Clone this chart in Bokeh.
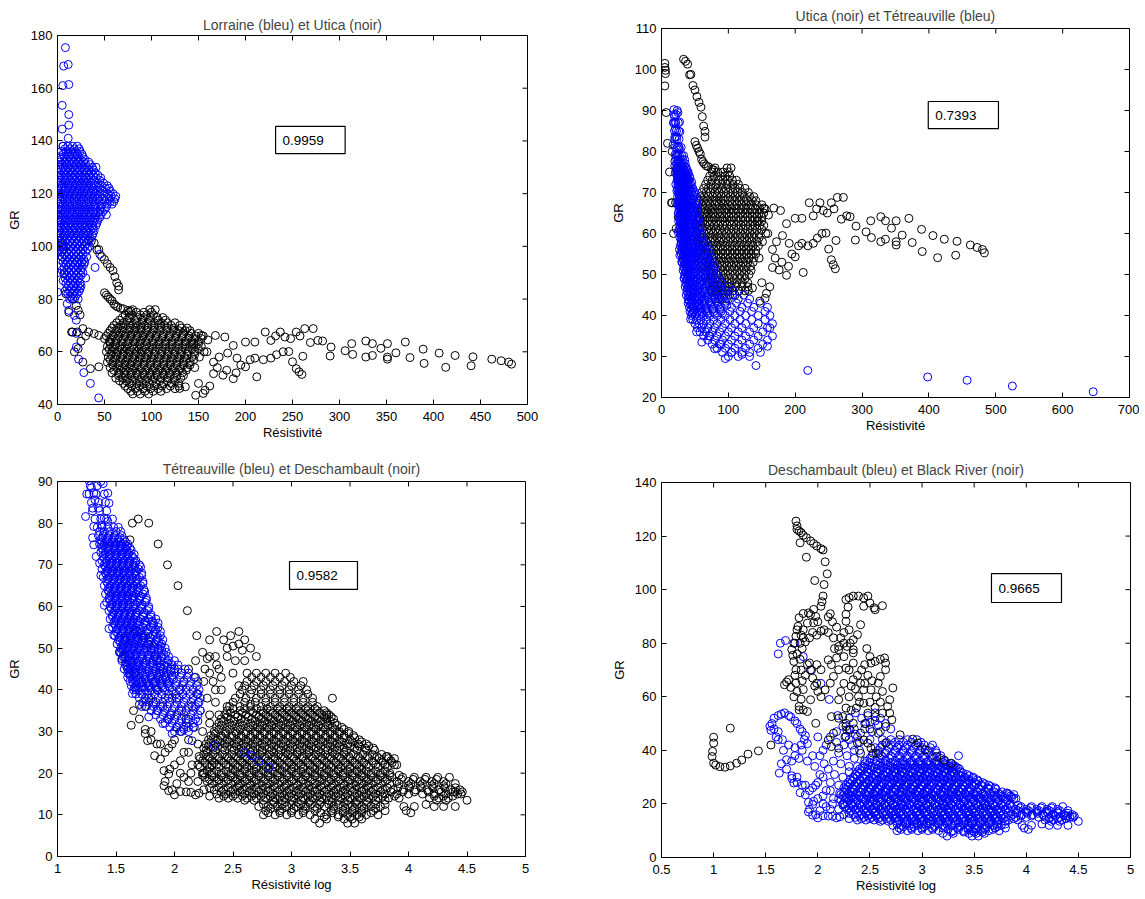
import numpy as np
from bokeh.plotting import figure
from bokeh.layouts import column, row
from bokeh.models import FixedTicker, CustomJSTickFormatter, BoxAnnotation, Label, Range1d
from bokeh.embed import file_html
from bokeh.resources import INLINE

FONT = "Liberation Sans"

# ---- Lorraine (resistivity, GR) : dense rows (GR, [resistivities]) + loose points
lorraine_rows = [
    (138, [6, 11, 16, 21]), (137, [8, 13, 18, 23]),
    (136, [4, 9, 14, 19, 24]), (135, [6, 11, 16, 21, 26]),
    (134, [2, 7, 12, 17, 22, 27]), (133, [4, 9, 14, 19, 24, 29]),
    (132, [3, 8, 13, 18, 23, 28, 33]), (131, [1, 5, 10, 15, 20, 25, 30, 35]),
    (130, [1, 6, 11, 16, 21, 26, 31, 37, 41]), (129, [3, 8, 13, 18, 23, 28, 33, 38]),
    (128, [2, 7, 12, 17, 22, 27, 32, 36, 40]), (127, [0, 4, 9, 14, 19, 24, 29, 34, 38, 43]),
    (126, [1, 5, 10, 15, 20, 25, 30, 35, 41, 46]), (125, [3, 8, 13, 18, 23, 28, 33, 39, 45]),
    (124, [2, 7, 12, 17, 22, 27, 32, 37, 43, 49]),
    (123, [1, 5, 11, 16, 21, 26, 31, 36, 41, 47, 53]),
    (122, [0, 4, 9, 14, 19, 24, 29, 34, 39, 45, 51, 55]),
    (121, [2, 8, 13, 18, 23, 28, 33, 38, 43, 49, 56]),
    (120, [1, 6, 11, 16, 21, 26, 31, 36, 41, 47, 53, 59]),
    (119, [1, 5, 10, 15, 20, 25, 30, 35, 40, 45, 51, 57, 62]),
    (118, [0, 3, 8, 13, 18, 23, 28, 33, 38, 43, 49, 55, 61]),
    (117, [3, 8, 13, 18, 23, 28, 33, 38, 44, 50, 56, 60]),
    (116, [1, 6, 11, 16, 21, 26, 31, 36, 41, 47, 53, 58]),
    (115, [1, 5, 10, 15, 20, 25, 30, 35, 40, 46, 52]),
    (114, [0, 4, 9, 14, 19, 24, 29, 34, 39, 45, 50]),
    (113, [3, 8, 13, 18, 23, 28, 33, 38, 43, 48]),
    (112, [1, 6, 11, 16, 21, 26, 31, 36, 41, 46, 52]),
    (111, [1, 5, 10, 15, 20, 25, 30, 35, 40, 45]),
    (110, [0, 4, 9, 14, 19, 24, 29, 34, 39, 43]),
    (109, [3, 8, 13, 18, 23, 28, 33, 38, 42]),
    (108, [2, 7, 12, 17, 22, 27, 32, 37, 41]),
    (107, [0, 4, 9, 14, 19, 24, 29, 34, 38]),
    (106, [1, 5, 10, 15, 20, 25, 30, 35, 39]),
    (105, [3, 8, 13, 18, 23, 28, 33, 38]),
    (104, [2, 7, 12, 17, 22, 27, 32, 37]), (103, [1, 5, 10, 15, 20, 25, 30, 35]),
    (102, [3, 8, 13, 18, 23, 28, 33]), (101, [6, 11, 16, 21, 26, 31]),
    (100, [4, 9, 14, 19, 24, 29, 34]), (99, [2, 7, 12, 17, 22, 27, 32]),
    (98, [5, 10, 15, 20, 25, 30]), (97, [7, 12, 17, 22, 27]),
    (96, [5, 10, 15, 20, 25, 31]), (95, [3, 8, 13, 18, 23, 28]),
    (94, [6, 11, 16, 21, 26, 29]), (93, [9, 14, 19, 24, 28]),
    (92, [7, 12, 17, 22, 26]), (91, [5, 10, 15, 20, 25]),
    (90, [7, 12, 17, 22, 27]), (89, [10, 15, 20, 25]),
    (88, [8, 13, 18, 23]), (87, [6, 11, 16, 21]),
    (86, [9, 14, 19, 24]), (85, [12, 17, 22]),
    (84, [10, 15, 20, 24]), (83, [8, 13, 18, 23]),
    (82, [11, 16, 21]), (81, [14, 19]),
    (80, [13, 18, 22]),
]
lorraine_pts = [
    (8.4, 175.4), (6.5, 168.4), (11.4, 169), (5.7, 161), (12, 161.4), (5, 153.5),
    (12, 150), (5, 144.5), (12, 146), (11.4, 141), (5.7, 138),
    (0, 82.6), (0, 90), (0.8, 97.8), (0, 105), (0, 112), (0, 120),
    (10.3, 78.2), (12, 75.7), (18, 73.8), (20, 72), (20, 67), (20, 61.8),
    (22.4, 57.2), (28, 52.1), (35, 48), (43.8, 42.5),
    (30, 88), (40, 92), (45, 97), (25, 85),
]

# ---- Utica (resistivity, GR)
utica_rows = [
    (76, [80, 98, 104]), (75, [76, 84, 92, 100]),
    (74, [72, 79, 88, 95, 102]), (73, [69, 76, 85, 92, 99, 106, 112]),
    (72, [66, 74, 82, 90, 98, 107, 115]),
    (71, [63, 70, 77, 84, 90, 96, 103, 110, 117, 125]),
    (70, [60, 67, 73, 80, 86, 93, 100, 107, 114, 121, 130]),
    (69, [58, 64, 70, 77, 83, 89, 96, 103, 110, 117, 124, 132, 138]),
    (68, [56, 63, 69, 76, 82, 89, 95, 102, 109, 116, 123, 129, 136, 141]),
    (67, [54, 61, 67, 73, 80, 86, 93, 100, 106, 113, 120, 127, 134, 142, 150]),
    (66, [52, 59, 65, 72, 78, 85, 91, 98, 105, 112, 119, 126, 133, 140, 147, 155]),
    (65, [57, 64, 70, 77, 84, 90, 97, 104, 111, 118, 125, 132, 139, 146, 153]),
    (64, [55, 62, 68, 75, 81, 88, 94, 101, 108, 115, 122, 129, 136, 143, 150]),
    (63, [56, 62, 69, 75, 82, 88, 95, 102, 108, 115, 122, 129, 136, 143, 150]),
    (62, [53, 59, 66, 72, 79, 85, 92, 98, 105, 112, 119, 126, 133, 140, 147, 153]),
    (61, [55, 61, 68, 74, 81, 87, 94, 101, 108, 115, 122, 129, 136, 143, 150]),
    (60, [52, 58, 64, 71, 77, 84, 90, 97, 104, 111, 118, 125, 132, 139, 146, 156]),
    (59, [57, 63, 70, 76, 83, 89, 96, 103, 110, 117, 124, 131, 138, 146]),
    (58, [54, 61, 67, 74, 80, 87, 93, 100, 107, 114, 121, 128, 135, 143, 151]),
    (57, [56, 62, 69, 75, 82, 88, 95, 102, 109, 116, 123, 130, 137, 145]),
    (56, [53, 59, 66, 72, 79, 85, 92, 99, 106, 113, 120, 127, 134, 141]),
    (55, [59, 65, 72, 78, 85, 92, 99, 106, 113, 120, 127, 134, 141]),
    (54, [56, 63, 69, 76, 82, 89, 96, 103, 110, 117, 124, 131, 138, 146]),
    (53, [60, 67, 73, 80, 87, 94, 101, 108, 115, 122, 129, 137]),
    (52, [58, 65, 71, 78, 84, 91, 98, 105, 112, 119, 126, 133]),
    (51, [65, 72, 78, 85, 92, 99, 106, 113, 120, 127, 134]),
    (50, [62, 69, 75, 82, 89, 96, 103, 110, 117, 124, 131]),
    (49, [66, 73, 80, 87, 94, 101, 109, 117, 125]),
    (48, [70, 77, 84, 91, 98, 105, 113, 121, 129]),
    (47, [72, 79, 87, 95, 103, 111, 120, 129]),
    (46, [75, 83, 91, 99, 107, 116, 125]),
    (45, [78, 85, 93, 102, 110]),
    (44, [80, 88, 97]),
]
utica_pts = [
    (5, 101.5), (5, 100.5), (6, 99.8), (6, 99), (5, 96), (7, 89.5), (9, 82),
    (12, 75), (15, 67.5), (18, 60),
    (33, 102.5), (36, 102), (39, 101.3), (42, 98.7), (44, 98.8), (47, 96.1),
    (50, 95), (53, 93.4), (56, 92), (59, 90.8), (61, 88.5), (63, 86.2),
    (65, 84.9), (65, 83.5), (50, 82.4), (52, 81.5), (54, 80.8), (56, 80),
    (58, 79.4), (60, 78.1), (62, 77.5), (64, 77), (67, 76.5), (70, 76.3),
    (75, 75.7), (78, 75.5),
    (16, 80), (20, 77.6), (22, 75.7), (24, 74), (16, 67.5), (21, 67.5),
    (27, 68.8), (33, 67.5), (39, 66.9), (44, 66.2), (50, 65), (56, 63.7),
    (22, 61.2), (27, 56.1), (35, 53.6), (44, 54.3), (25, 64), (30, 66),
    (145, 63), (153, 66.2), (160, 64.5), (168, 66.2), (178, 65.6), (187, 62.4),
    (200, 63.7), (210, 63.7), (221, 67.5), (227, 64.3), (232, 66), (237, 67.5),
    (242, 65.6), (248, 65), (254, 67.5), (258, 66), (263, 68.8), (272, 68.8),
    (269, 63.5), (277, 64.3), (282, 64.1),
    (159, 60), (166, 56.1), (172, 58), (181, 59.5), (191, 57.6), (195, 55),
    (200, 54.3), (205, 57), (210, 57.6), (212, 50.5), (219, 57), (227, 57.6),
    (233, 58.9), (240, 60), (246, 60.1), (250, 56.2), (254, 53.6), (257, 52.4),
    (260, 51.4), (261, 58.3), (176, 51.1), (187, 49.8), (166, 51.7), (157, 45.4),
    (155, 44.2), (147, 43.5), (130, 46.1), (136, 46.7), (170, 54), (180, 53),
    (190, 52), (150, 48), (162, 47),
    (291, 61.8), (290, 58.4), (306, 60.4), (314, 59), (313, 63.1), (328, 64.1),
    (335, 63.1), (328, 58), (335, 58.6), (344, 61.3), (351, 63.1), (351, 58),
    (351, 57.2), (360, 59.6), (370, 63.7), (375, 57.8), (389, 61), (390, 55.6),
    (406, 59.5), (413, 54.1), (423, 58.6), (440, 54.7), (442, 58.1), (462, 57.2),
    (472, 56.6), (480, 56.1), (483, 55.3),
]

# ---- Tetreauville (log10 resistivity, GR)
tetreauville_rows = [
    (89, [1.28, 1.34]), (87, [1.27, 1.33, 1.40]), (85, [1.29, 1.35, 1.41]),
    (83, [1.30, 1.36, 1.42]), (81, [1.32, 1.37, 1.42, 1.47]),
    (79, [1.34, 1.38, 1.43, 1.48, 1.52]),
    (78, [1.36, 1.40, 1.45, 1.50, 1.54]), (77, [1.35, 1.39, 1.44, 1.49, 1.55]),
    (76, [1.37, 1.42, 1.47, 1.52, 1.57]), (75, [1.36, 1.40, 1.45, 1.50, 1.55, 1.60]),
    (74, [1.38, 1.43, 1.48, 1.53, 1.58, 1.62]), (73, [1.37, 1.41, 1.46, 1.51, 1.56, 1.61]),
    (72, [1.39, 1.44, 1.49, 1.54, 1.59, 1.64]),
    (71, [1.38, 1.42, 1.47, 1.52, 1.57, 1.62, 1.67]),
    (70, [1.40, 1.45, 1.50, 1.55, 1.60, 1.65, 1.70]),
    (69, [1.38, 1.43, 1.48, 1.53, 1.58, 1.63, 1.69]),
    (68, [1.41, 1.46, 1.51, 1.56, 1.61, 1.66, 1.72]),
    (67, [1.39, 1.44, 1.49, 1.54, 1.59, 1.64, 1.70]),
    (66, [1.42, 1.47, 1.52, 1.57, 1.62, 1.67, 1.73]),
    (65, [1.40, 1.45, 1.50, 1.55, 1.60, 1.65, 1.71]),
    (64, [1.43, 1.48, 1.53, 1.58, 1.63, 1.68, 1.74]),
    (63, [1.41, 1.46, 1.51, 1.56, 1.61, 1.67, 1.73]),
    (62, [1.44, 1.49, 1.54, 1.59, 1.64, 1.70, 1.76]),
    (61, [1.42, 1.47, 1.52, 1.57, 1.62, 1.68, 1.75]),
    (60, [1.45, 1.50, 1.55, 1.60, 1.65, 1.71, 1.78]),
    (59, [1.44, 1.49, 1.54, 1.59, 1.64, 1.70, 1.77]),
    (58, [1.47, 1.52, 1.57, 1.62, 1.67, 1.73, 1.80]),
    (57, [1.45, 1.50, 1.55, 1.60, 1.65, 1.71, 1.78, 1.84]),
    (56, [1.48, 1.53, 1.58, 1.63, 1.68, 1.74, 1.82, 1.86]),
    (55, [1.47, 1.52, 1.57, 1.62, 1.67, 1.73, 1.80, 1.86]),
    (54, [1.50, 1.55, 1.60, 1.65, 1.70, 1.76, 1.83, 1.88]),
    (53, [1.49, 1.54, 1.59, 1.64, 1.69, 1.75, 1.82, 1.88]),
    (52, [1.52, 1.57, 1.62, 1.67, 1.72, 1.78, 1.85, 1.90]),
    (51, [1.51, 1.56, 1.61, 1.66, 1.71, 1.77, 1.83, 1.89]),
    (50, [1.54, 1.59, 1.64, 1.69, 1.74, 1.80, 1.86, 1.92]),
    (49, [1.53, 1.58, 1.63, 1.68, 1.74, 1.80, 1.86, 1.93]),
    (48, [1.56, 1.61, 1.66, 1.71, 1.77, 1.83, 1.89, 1.95]),
    (47, [1.55, 1.60, 1.65, 1.70, 1.76, 1.82, 1.88, 1.95, 2.00]),
    (46, [1.58, 1.63, 1.68, 1.73, 1.79, 1.85, 1.91, 1.98, 2.03]),
    (45, [1.57, 1.62, 1.67, 1.72, 1.78, 1.84, 1.90, 1.97, 2.03, 2.09]),
    (44, [1.60, 1.65, 1.70, 1.75, 1.81, 1.87, 1.93, 2.00, 2.06, 2.12]),
    (43, [1.60, 1.65, 1.70, 1.75, 1.80, 1.86, 1.92, 1.98, 2.05, 2.11, 2.17]),
    (42, [1.62, 1.67, 1.72, 1.77, 1.83, 1.89, 1.95, 2.02, 2.08, 2.14, 2.20]),
    (41, [1.63, 1.68, 1.73, 1.78, 1.83, 1.89, 1.95, 2.01, 2.07, 2.13, 2.19]),
    (40, [1.65, 1.70, 1.75, 1.80, 1.86, 1.92, 1.98, 2.04, 2.10, 2.16, 2.21]),
    (39, [1.67, 1.72, 1.77, 1.83, 1.89, 1.95, 2.01, 2.07, 2.13, 2.19]),
    (38, [1.70, 1.75, 1.80, 1.86, 1.92, 1.98, 2.04, 2.10, 2.16, 2.22]),
    (37, [1.73, 1.78, 1.84, 1.90, 1.96, 2.02, 2.08, 2.14, 2.20]),
    (36, [1.76, 1.82, 1.88, 1.94, 2.00, 2.06, 2.12, 2.18]),
    (35, [1.80, 1.86, 1.92, 1.98, 2.04, 2.10, 2.16]),
    (34, [1.84, 1.90, 1.96, 2.02, 2.08, 2.14, 2.20]),
    (33, [1.88, 1.94, 2.00, 2.06, 2.12]),
    (32, [1.92, 1.98, 2.04, 2.10, 2.16]),
    (31, [1.96, 2.02, 2.08]),
    (30, [2.00, 2.06, 2.12]),
    # in-between rows of the dense core
    (76.5, [1.385, 1.435, 1.485, 1.535]),
    (75.5, [1.38, 1.43, 1.48, 1.53, 1.58]),
    (74.5, [1.395, 1.445, 1.495, 1.545, 1.595]),
    (73.5, [1.39, 1.44, 1.49, 1.54, 1.59, 1.63]),
    (72.5, [1.405, 1.455, 1.505, 1.555, 1.605, 1.655]),
    (71.5, [1.40, 1.45, 1.50, 1.55, 1.60, 1.65]),
    (70.5, [1.415, 1.465, 1.515, 1.565, 1.615, 1.665]),
    (69.5, [1.41, 1.46, 1.51, 1.56, 1.61, 1.66, 1.71]),
    (68.5, [1.425, 1.475, 1.525, 1.575, 1.625, 1.675]),
    (67.5, [1.42, 1.47, 1.52, 1.57, 1.62, 1.67, 1.72]),
    (66.5, [1.435, 1.485, 1.535, 1.585, 1.635, 1.685]),
    (65.5, [1.43, 1.48, 1.53, 1.58, 1.63, 1.68, 1.73]),
    (64.5, [1.445, 1.495, 1.545, 1.595, 1.645, 1.695]),
    (63.5, [1.44, 1.49, 1.54, 1.59, 1.64, 1.69, 1.745]),
    (62.5, [1.455, 1.505, 1.555, 1.605, 1.655, 1.71]),
    (61.5, [1.45, 1.50, 1.55, 1.60, 1.65, 1.70, 1.76]),
    (60.5, [1.465, 1.515, 1.565, 1.615, 1.665, 1.72]),
    (59.5, [1.46, 1.51, 1.56, 1.61, 1.66, 1.72, 1.78]),
    (58.5, [1.48, 1.53, 1.58, 1.63, 1.68, 1.74]),
    (57.5, [1.47, 1.52, 1.57, 1.62, 1.67, 1.73, 1.80]),
    (56.5, [1.49, 1.54, 1.59, 1.64, 1.69, 1.75, 1.81]),
    (55.5, [1.495, 1.545, 1.595, 1.645, 1.695, 1.755, 1.82]),
    (54.5, [1.51, 1.56, 1.61, 1.66, 1.71, 1.77, 1.84]),
    (53.5, [1.515, 1.565, 1.615, 1.665, 1.715, 1.775, 1.845]),
    (52.5, [1.53, 1.58, 1.63, 1.68, 1.73, 1.79, 1.86]),
    (51.5, [1.535, 1.585, 1.635, 1.685, 1.735, 1.795, 1.865]),
    (50.5, [1.55, 1.60, 1.65, 1.70, 1.76, 1.82, 1.88]),
    (49.5, [1.555, 1.605, 1.655, 1.705, 1.765, 1.825, 1.89]),
    (48.5, [1.57, 1.62, 1.67, 1.72, 1.78, 1.84, 1.91]),
    (47.5, [1.575, 1.625, 1.675, 1.725, 1.785, 1.85, 1.92]),
    (46.5, [1.59, 1.64, 1.69, 1.75, 1.81, 1.87, 1.94]),
    (45.5, [1.595, 1.645, 1.695, 1.755, 1.815, 1.875, 1.94]),
    (44.5, [1.61, 1.66, 1.72, 1.78, 1.84, 1.90, 1.97]),
    (43.5, [1.62, 1.67, 1.73, 1.79, 1.85, 1.91, 1.98]),
    (42.5, [1.64, 1.69, 1.75, 1.81, 1.87, 1.93, 1.99]),
    (41.5, [1.65, 1.70, 1.76, 1.82, 1.88, 1.94]),
    (40.5, [1.67, 1.72, 1.78, 1.84, 1.90, 1.96]),
]
tetreauville_pts = [
    (1.27, 90.2), (1.37, 90), (1.39, 89.5), (1.25, 87), (1.31, 87.2), (1.43, 87.2),
    (1.29, 88.5), (1.32, 85.6), (1.44, 84.8), (1.24, 81.6), (1.30, 83.6),
    (1.35, 83.6), (1.40, 81.2), (1.43, 80.4), (1.31, 79.2), (1.38, 79.5),
    (1.30, 76.5), (1.31, 74.8), (1.33, 72), (1.36, 70.4), (1.37, 67.5),
    (1.40, 60.3), (1.44, 54.7), (1.48, 53.1), (1.53, 49.1), (1.62, 43.5),
    (1.64, 39.1), (1.66, 40.5), (1.90, 31.9), (2.15, 27.8), (2.20, 32.5),
    (2.22, 35), (2.21, 37), (2.18, 33), (2.17, 31), (1.98, 29.5), (2.02, 31),
    (2.08, 30.5), (2.12, 31), (1.95, 33), (1.85, 35), (1.78, 33.5), (1.72, 36),
    (2.34, 26.6), (2.60, 25), (2.66, 24.2), (2.72, 22.8), (2.81, 21.4),
]

# ---- Deschambault (log10 resistivity, GR)
deschambault_rows = [
    (44, [2.70, 2.78, 2.86, 2.95]),
    (43, [2.66, 2.74, 2.82, 2.90, 2.99]),
    (42, [2.62, 2.70, 2.78, 2.86, 2.94, 3.02, 3.10]),
    (41, [2.60, 2.68, 2.76, 2.84, 2.92, 3.00, 3.08]),
    (40, [2.58, 2.66, 2.74, 2.82, 2.90, 2.98, 3.06, 3.13]),
    (39, [2.56, 2.65, 2.74, 2.82, 2.90, 2.98, 3.06, 3.14]),
    (38, [2.52, 2.61, 2.70, 2.78, 2.86, 2.94, 3.02, 3.10, 3.18]),
    (37, [2.50, 2.60, 2.69, 2.78, 2.86, 2.94, 3.02, 3.10, 3.18]),
    (36, [2.47, 2.56, 2.65, 2.74, 2.82, 2.90, 2.98, 3.06, 3.14, 3.22]),
    (35.5, [2.50, 2.60, 2.70, 2.79, 2.88, 2.96, 3.04, 3.12, 3.20]),
    (35, [2.45, 2.56, 2.65, 2.74, 2.82, 2.90, 2.98, 3.06, 3.14, 3.22, 3.28]),
    (34.5, [2.48, 2.58, 2.67, 2.76, 2.84, 2.92, 3.00, 3.08, 3.16, 3.24, 3.30]),
    (34, [2.43, 2.52, 2.61, 2.70, 2.78, 2.86, 2.94, 3.02, 3.10, 3.18, 3.26, 3.32]),
    (33.5, [2.45, 2.54, 2.63, 2.72, 2.80, 2.88, 2.96, 3.04, 3.12, 3.20, 3.28, 3.34]),
    (33, [2.40, 2.48, 2.57, 2.66, 2.74, 2.82, 2.90, 2.98, 3.06, 3.14, 3.22, 3.30, 3.36]),
    (32.5, [2.42, 2.51, 2.60, 2.69, 2.77, 2.85, 2.93, 3.01, 3.09, 3.17, 3.25, 3.33]),
    (32, [2.38, 2.47, 2.56, 2.65, 2.73, 2.81, 2.89, 2.97, 3.05, 3.13, 3.21, 3.29, 3.37]),
    (31.5, [2.40, 2.49, 2.58, 2.67, 2.75, 2.83, 2.91, 2.99, 3.07, 3.15, 3.23, 3.31, 3.39]),
    (31, [2.36, 2.45, 2.54, 2.63, 2.71, 2.79, 2.87, 2.95, 3.03, 3.11, 3.19, 3.27,
          3.35, 3.43]),
    (30.5, [2.38, 2.47, 2.56, 2.65, 2.73, 2.81, 2.89, 2.97, 3.05, 3.13, 3.21, 3.29,
            3.37, 3.45]),
    (30, [2.34, 2.43, 2.52, 2.61, 2.69, 2.77, 2.85, 2.93, 3.01, 3.09, 3.17, 3.25,
          3.33, 3.41, 3.49]),
    (29.5, [2.35, 2.44, 2.53, 2.61, 2.69, 2.77, 2.85, 2.93, 3.01, 3.09, 3.17, 3.25,
            3.33, 3.41, 3.49]),
    (29, [2.31, 2.40, 2.49, 2.57, 2.65, 2.73, 2.81, 2.89, 2.97, 3.05, 3.13, 3.21,
          3.29, 3.37, 3.45, 3.53]),
    (28.5, [2.33, 2.41, 2.49, 2.57, 2.65, 2.73, 2.81, 2.89, 2.97, 3.05, 3.13, 3.21,
            3.29, 3.37, 3.45, 3.54]),
    (28, [2.29, 2.37, 2.45, 2.53, 2.61, 2.69, 2.77, 2.85, 2.93, 3.01, 3.09, 3.17,
          3.25, 3.33, 3.41, 3.50, 3.58]),
    (27.5, [2.31, 2.39, 2.47, 2.55, 2.63, 2.71, 2.79, 2.87, 2.95, 3.03, 3.11, 3.19,
            3.27, 3.35, 3.43, 3.52, 3.60]),
    (27, [2.27, 2.35, 2.43, 2.51, 2.59, 2.67, 2.75, 2.83, 2.91, 2.99, 3.07, 3.15,
          3.23, 3.31, 3.39, 3.48, 3.57, 3.64]),
    (26.5, [2.29, 2.37, 2.45, 2.53, 2.61, 2.69, 2.77, 2.85, 2.93, 3.01, 3.09, 3.17,
            3.25, 3.33, 3.41, 3.50, 3.58, 3.66]),
    (26, [2.25, 2.33, 2.41, 2.49, 2.57, 2.65, 2.73, 2.81, 2.89, 2.97, 3.05, 3.13,
          3.21, 3.29, 3.37, 3.45, 3.54, 3.63, 3.70]),
    (25.5, [2.27, 2.35, 2.43, 2.51, 2.59, 2.67, 2.75, 2.83, 2.91, 2.99, 3.07, 3.15,
            3.23, 3.31, 3.39, 3.47, 3.56, 3.64, 3.71]),
    (25, [2.55, 2.65, 2.75, 2.85, 2.95, 3.05, 3.15, 3.25, 3.35, 3.45]),
    (24.5, [2.25, 2.33, 2.41, 2.49, 2.57, 2.65, 2.73, 2.81, 2.89, 2.97, 3.05, 3.13,
            3.21, 3.29, 3.37, 3.45, 3.53, 3.61, 3.69, 3.77]),
    (24, [2.21, 2.29, 2.37, 2.45, 2.53, 2.61, 2.69, 2.77, 2.85, 2.93, 3.01, 3.09,
          3.17, 3.25, 3.33, 3.41, 3.49, 3.57, 3.65, 3.73, 3.81]),
    (23.5, [2.22, 2.30, 2.38, 2.46, 2.54, 2.62, 2.70, 2.78, 2.86, 2.94, 3.02, 3.10,
            3.18, 3.26, 3.34, 3.42, 3.50, 3.58, 3.66, 3.75, 3.83]),
    (23, [2.24, 2.32, 2.40, 2.48, 2.56, 2.64, 2.72, 2.80, 2.88, 2.96, 3.04, 3.12,
          3.20, 3.28, 3.36, 3.44, 3.52, 3.60, 3.69, 3.77, 3.85]),
    (22.5, [2.26, 2.34, 2.42, 2.50, 2.58, 2.66, 2.74, 2.82, 2.90, 2.98, 3.06, 3.14,
            3.22, 3.30, 3.38, 3.46, 3.54, 3.62, 3.70, 3.78, 3.86]),
    (22, [2.20, 2.28, 2.36, 2.44, 2.52, 2.60, 2.68, 2.76, 2.84, 2.92, 3.00, 3.08,
          3.16, 3.24, 3.32, 3.40, 3.48, 3.56, 3.64, 3.72, 3.80, 3.88]),
    (21.5, [2.22, 2.30, 2.38, 2.46, 2.54, 2.62, 2.70, 2.78, 2.86, 2.94, 3.02, 3.10,
            3.18, 3.26, 3.34, 3.42, 3.50, 3.58, 3.66, 3.74, 3.82]),
    (21, [2.50, 2.60, 2.70, 2.80, 2.90, 3.00, 3.10, 3.20, 3.30, 3.40, 3.50, 3.60]),
    (20.5, [2.28, 2.36, 2.44, 2.52, 2.60, 2.68, 2.76, 2.84, 2.92, 3.00, 3.08, 3.16,
            3.24, 3.32, 3.40, 3.48, 3.56, 3.64, 3.72, 3.80]),
    (20, [2.24, 2.32, 2.40, 2.48, 2.56, 2.64, 2.72, 2.80, 2.88, 2.96, 3.04, 3.12,
          3.20, 3.28, 3.36, 3.44, 3.52, 3.60, 3.68, 3.76, 3.84]),
    (19.5, [2.24, 2.32, 2.40, 2.48, 2.56, 2.64, 2.72, 2.80, 2.88, 2.96, 3.04, 3.12,
            3.20, 3.28, 3.36, 3.44, 3.52, 3.60, 3.68, 3.76, 3.84, 3.92]),
    (19, [2.26, 2.34, 2.42, 2.50, 2.58, 2.66, 2.74, 2.82, 2.90, 2.98, 3.06, 3.14,
          3.22, 3.30, 3.38, 3.46, 3.54, 3.62, 3.70, 3.78, 3.86, 3.95, 4.05, 4.15,
          4.25, 4.35]),
    (18.5, [2.30, 2.38, 2.46, 2.54, 2.62, 2.70, 2.78, 2.86, 2.94, 3.02, 3.10, 3.18,
            3.26, 3.34, 3.42, 3.50, 3.58, 3.66, 3.74, 3.82, 3.94, 4.04, 4.14, 4.24]),
    (18, [2.28, 2.36, 2.44, 2.52, 2.60, 2.68, 2.76, 2.84, 2.92, 3.00, 3.08, 3.16,
          3.24, 3.32, 3.40, 3.48, 3.56, 3.64, 3.72, 3.80, 3.90, 4.00, 4.10, 4.20, 4.30]),
    (17.5, [2.32, 2.40, 2.48, 2.56, 2.64, 2.72, 2.80, 2.88, 2.96, 3.04, 3.12, 3.20,
            3.28, 3.36, 3.44, 3.52, 3.60, 3.68, 3.76, 3.84, 3.92, 4.02, 4.12, 4.22,
            4.32, 4.40]),
    (17, [2.55, 2.65, 2.75, 2.85, 2.95, 3.05, 3.15, 3.25, 3.35, 3.45, 3.55, 3.65]),
    (16.5, [2.30, 2.38, 2.46, 2.54, 2.62, 2.70, 2.78, 2.86, 2.94, 3.02, 3.10, 3.18,
            3.26, 3.34, 3.42, 3.50, 3.58, 3.66, 3.74, 3.82, 3.91, 4.01, 4.11, 4.21,
            4.31, 4.40]),
    (16, [2.34, 2.42, 2.50, 2.58, 2.66, 2.74, 2.82, 2.90, 2.98, 3.06, 3.14, 3.22,
          3.30, 3.38, 3.46, 3.54, 3.62, 3.70, 3.78, 3.87, 3.96, 4.06, 4.16, 4.26,
          4.36, 4.44]),
    (15.5, [2.40, 2.48, 2.56, 2.64, 2.72, 2.80, 2.88, 2.96, 3.04, 3.12, 3.20, 3.28,
            3.36, 3.44, 3.52, 3.60, 3.68, 3.76, 3.85, 3.95, 4.05, 4.17, 4.28, 4.38,
            4.46]),
    (15, [2.36, 2.44, 2.52, 2.60, 2.68, 2.76, 2.84, 2.92, 3.00, 3.08, 3.16, 3.24,
          3.32, 3.40, 3.48, 3.56, 3.64, 3.72, 3.80, 3.90, 4.00, 4.12, 4.22, 4.32, 4.42]),
    (14.5, [2.42, 2.50, 2.58, 2.66, 2.74, 2.82, 2.90, 2.98, 3.06, 3.14, 3.22, 3.30,
            3.38, 3.46, 3.54, 3.62, 3.70, 3.78, 3.88, 4.22, 4.30, 4.38]),
    (14, [2.38, 2.46, 2.54, 2.62, 2.70, 2.78, 2.86, 2.94, 3.02, 3.10, 3.18, 3.26,
          3.34, 3.42, 3.50, 3.58, 3.66, 3.74, 3.83, 3.92, 4.18, 4.26, 4.34]),
    (13.5, [2.60, 2.68, 2.76, 2.84, 2.92, 3.00, 3.08, 3.16, 3.24, 3.32, 3.40, 3.48,
            3.56, 3.64, 3.72, 3.80, 4.24, 4.32]),
    (13, [2.85, 2.95, 3.05, 3.15, 3.25, 3.35, 3.45, 3.55, 3.65]),
    (12.5, [2.76, 2.84, 2.92, 3.00, 3.08, 3.16, 3.24, 3.32, 3.40, 3.48, 3.56, 3.64,
            3.72, 3.80]),
    (12, [2.72, 2.80, 2.88, 2.96, 3.04, 3.12, 3.20, 3.28, 3.36, 3.44, 3.52, 3.60,
          3.68, 3.76, 3.96, 4.22, 4.30]),
    (11.5, [2.82, 2.92, 3.02, 3.12, 3.22, 3.36, 3.46, 3.54, 3.62, 3.72]),
    (11, [2.78, 2.90, 3.00, 3.10, 3.20, 3.34, 3.44, 3.52, 3.60, 3.70, 3.80]),
    (10.5, [2.80, 2.90, 3.00, 3.10, 3.25, 3.35, 3.44, 3.52, 3.60, 3.68]),
    (10, [2.76, 2.86, 2.96, 3.06, 3.16, 3.30, 3.40, 3.48, 3.56, 3.64, 3.74]),
    (9.5, [3.28, 3.40, 3.50, 3.58]),
    (9, [3.20, 3.30, 3.45, 3.52, 3.60]),
    (8, [3.24, 3.48, 3.54]),
]
deschambault_pts = [
    (1.69, 81), (1.64, 80), (1.78, 80), (1.62, 76), (1.86, 75), (1.94, 70),
    (2.03, 65), (2.11, 59), (2.19, 53),
    (1.54, 49), (1.55, 47.5), (1.62, 44), (1.65, 35), (1.63, 31.5), (1.75, 29.5),
    (1.77, 27.8), (1.83, 24.2), (1.88, 23.4), (1.91, 20.6), (1.95, 19.8),
    (1.91, 17), (1.95, 15.8), (2.05, 15.6), (2.10, 15.5), (2.14, 15.4), (2.21, 15.2),
    (1.58, 52), (1.65, 53.5), (1.72, 53), (1.78, 51), (1.83, 48), (1.88, 45.5),
    (1.90, 42.5), (1.85, 40), (1.78, 38), (1.70, 36.5), (1.60, 45), (1.67, 40),
    (1.80, 30), (1.85, 27), (1.92, 25), (2.00, 22), (2.05, 20), (1.98, 27),
    (2.05, 30), (2.10, 33), (2.15, 36), (2.20, 39), (2.25, 42), (2.30, 44),
    (2.08, 25), (2.15, 22), (2.12, 18), (2.00, 45), (2.05, 40), (1.95, 38),
    (2.28, 47.5), (2.35, 48), (2.38, 45), (2.45, 48), (2.50, 50.5), (2.55, 51),
    (2.58, 49.5), (2.60, 47), (2.62, 44), (2.50, 44), (2.40, 40), (2.35, 37),
    (2.30, 34), (2.45, 36), (2.55, 41), (2.65, 36.5),
    # loops on the low-resistivity side
    (1.56, 50), (1.58, 48), (1.62, 53), (1.68, 54), (1.74, 52.5), (1.80, 50),
    (1.85, 47), (1.87, 44), (1.84, 42), (1.78, 41), (1.72, 42), (1.66, 44), (1.62, 47),
    (1.70, 33), (1.75, 36), (1.82, 37), (1.90, 36), (1.97, 34), (2.02, 31),
    (2.00, 28), (1.95, 26), (1.88, 27), (1.80, 28), (1.75, 30.5),
    (1.92, 18), (1.98, 16), (2.02, 17.5), (2.08, 19), (2.14, 20), (2.20, 18),
    (2.25, 16), (2.30, 14.5), (2.18, 14.8), (2.00, 14.8), (1.96, 21), (2.05, 23),
    (2.12, 25), (2.20, 27), (2.28, 25), (2.32, 22), (2.25, 20),
    (2.02, 38), (2.08, 42), (2.12, 45), (2.18, 47), (2.24, 49), (2.30, 48),
    (2.36, 46), (2.40, 43), (2.35, 40), (2.28, 38), (2.22, 35), (2.16, 31),
    (2.24, 30), (2.30, 32), (2.38, 34), (2.12, 28), (2.06, 35), (2.18, 43),
    (2.26, 45), (2.33, 42),
    (2.30, 52), (2.36, 54), (2.42, 52), (2.48, 53), (2.55, 54), (2.60, 52),
    (2.65, 50), (2.70, 48), (2.45, 50), (2.52, 47),
    # high-resistivity tail
    (4.50, 13.5), (4.45, 15), (4.40, 15.5), (4.30, 17), (4.20, 17), (4.10, 17),
    (4.00, 17), (3.98, 11), (4.02, 10.5), (3.90, 22), (3.88, 23.5), (3.82, 24),
    (3.30, 34), (3.35, 38), (4.05, 12), (4.15, 12.5), (4.40, 12),
]

# ---- Black River (log10 resistivity, GR)
black_river_pts = [
    (1.00, 44.9), (1.00, 42.7), (0.99, 39.6), (0.985, 37.7), (1.00, 35.2), (1.02, 34.5),
    (1.06, 33.9), (1.11, 33.7), (1.16, 34.2), (1.22, 35.2), (1.27, 36.4), (1.33, 38.6),
    (1.43, 39.8), (1.55, 42), (1.16, 48.3),
    (1.79, 125.6), (1.80, 123.8), (1.80, 122.5), (1.82, 121.9), (1.84, 121.3),
    (1.86, 120.3), (1.89, 119.4), (1.93, 118.2), (1.96, 117.2), (1.99, 116.3),
    (2.03, 115.3), (2.05, 114.8), (1.83, 117.5), (1.89, 112.1), (2.07, 110.4),
    (2.09, 105.9), (2.06, 101.9), (1.97, 103.4), (2.05, 97.6), (2.04, 95.5),
    (2.03, 93.8), (2.10, 89.8),
    (2.00, 88), (1.98, 90), (1.96, 92.6), (1.93, 90.7), (1.91, 91.3), (1.86, 91.1),
    (1.82, 89.5), (1.81, 86.3), (1.96, 87.6), (1.90, 87.5), (1.86, 85), (1.84, 83),
    (1.79, 82.6), (1.77, 80), (1.75, 77.6), (1.76, 75.5), (1.77, 73.2), (1.79, 70.1),
    (1.72, 66.4), (1.68, 64.5), (1.70, 65.5), (1.74, 63.5), (1.79, 65.1), (1.86, 62.7),
    (1.84, 59.1), (1.82, 55.1), (1.86, 55.1), (1.90, 54.5), (1.98, 50.1), (1.82, 56.4),
    (1.93, 58.9),
    (1.85, 78), (1.88, 80.5), (1.92, 82), (1.95, 84), (1.99, 83), (2.03, 84.5),
    (2.06, 85), (1.90, 72), (1.93, 70), (1.95, 67), (1.97, 64), (2.00, 62),
    (2.03, 60), (1.88, 68), (1.84, 70),
    (1.80, 85), (1.83, 80), (1.86, 82), (1.80, 76), (1.83, 74), (1.85, 66),
    (1.80, 62), (1.77, 60), (1.78, 68),
    (2.10, 84), (2.15, 82), (2.20, 78.8), (2.10, 73.8), (2.13, 72), (2.20, 77.6),
    (2.25, 80), (2.28, 78.8), (2.34, 76.4), (2.34, 72.6), (2.27, 70.7), (2.20, 70.1),
    (2.15, 67.6), (2.12, 65.1), (2.03, 70.1), (1.99, 72), (1.92, 72.6), (1.99, 65.1),
    (2.07, 62.6), (2.20, 58.9), (2.27, 55.8), (2.20, 52), (2.27, 50.1), (2.31, 47.6),
    (2.27, 45.2), (2.38, 42.7), (2.20, 40.8), (2.13, 41.4), (2.10, 43.9), (2.15, 46.4),
    (2.13, 52.6), (2.24, 52.6), (2.27, 48.9), (2.34, 50.1), (2.41, 46.4), (2.44, 43.9),
    (2.48, 42.7), (2.51, 40.8), (2.53, 38.9), (2.41, 38.9), (2.22, 62), (2.25, 65),
    (2.30, 60), (2.32, 55), (2.25, 75), (2.18, 74.5),
    (2.30, 70), (2.38, 68), (2.42, 70), (2.36, 63), (2.40, 58), (2.46, 50),
    (2.50, 48), (2.55, 56), (2.60, 58), (2.50, 58), (2.45, 65), (2.32, 64),
    (2.30, 85), (2.25, 84), (2.22, 82), (2.18, 86), (2.14, 88), (2.12, 91), (2.16, 78),
    (2.27, 96.3), (2.30, 97), (2.34, 97.6), (2.39, 97.6), (2.44, 96.9), (2.48, 97.6),
    (2.50, 95), (2.54, 93.2), (2.62, 94), (2.55, 92.5), (2.44, 93.8), (2.41, 86.9),
    (2.38, 83.2), (2.27, 90.8), (2.27, 88.2), (2.29, 93.5), (2.34, 81.3), (2.31, 80),
    (2.34, 77.6),
    (2.51, 72.6), (2.55, 73.2), (2.60, 74), (2.64, 74.5), (2.65, 72.6), (2.65, 70.1),
    (2.60, 67.6), (2.58, 65.1), (2.51, 62.6), (2.44, 62.6), (2.41, 65.1), (2.34, 66.4),
    (2.39, 60.1), (2.44, 57.6), (2.37, 55.8), (2.48, 53.9), (2.55, 52.6), (2.62, 53.9),
    (2.67, 56.4), (2.69, 58.9), (2.72, 63.3), (2.69, 53.9), (2.71, 51.4), (2.65, 48.9),
    (2.58, 46.4), (2.65, 42.7), (2.58, 38.9),
    (2.45, 72), (2.48, 68), (2.52, 66), (2.56, 60), (2.62, 62), (2.47, 78), (2.50, 75),
    (2.79, 45.8), (2.91, 44.2), (2.96, 42.7), (3.03, 40.2), (3.14, 37.7), (3.21, 36.4),
    (3.28, 35.2),
]

# correlation values shown in the boxes
correlations = ["0.9959", "0.7393", "0.9582", "0.9665"]


def series(rows, pts):
    xs = [x for y, xr in rows for x in xr] + [p[0] for p in pts]
    ys = [y for y, xr in rows for x in xr] + [p[1] for p in pts]
    return xs, ys


lor_x, lor_y = series(lorraine_rows, lorraine_pts)
uti_x, uti_y = series(utica_rows, utica_pts)
tet_lx, tet_y = series(tetreauville_rows, tetreauville_pts)
tet_x = list(10 ** np.array(tet_lx))
des_x, des_y = series(deschambault_rows, deschambault_pts)
br_x, br_y = series([], black_river_pts)

fmt = "return tick.toString();"


def make_fig(title, xr, yr, xticks, yticks, xlabel, fw, fh, bl, br, bt, bb,
             gr_standoff, title_standoff):
    p = figure(frame_width=fw, frame_height=fh, x_range=Range1d(*xr), y_range=Range1d(*yr),
               output_backend="svg", toolbar_location=None,
               min_border_left=bl, min_border_right=br, min_border_top=bt, min_border_bottom=bb)
    p.grid.visible = False
    p.outline_line_color = "black"
    p.outline_line_width = 1
    p.title.text = title
    p.title.align = "center"
    p.title.text_font = FONT
    p.title.text_font_size = "14px"
    p.title.text_font_style = "normal"
    p.title.standoff = title_standoff
    for ax, ticks in ((p.xaxis[0], xticks), (p.yaxis[0], yticks)):
        ax.ticker = FixedTicker(ticks=ticks)
        ax.formatter = CustomJSTickFormatter(code=fmt)
        ax.major_tick_in = 5
        ax.major_tick_out = 0
        ax.minor_tick_line_color = None
        ax.axis_line_color = "black"
        ax.major_label_text_font = FONT
        ax.major_label_text_font_size = "13px"
        ax.major_label_text_color = "black"
        ax.axis_label_text_font = FONT
        ax.axis_label_text_font_size = "13px"
        ax.axis_label_text_font_style = "normal"
        ax.axis_label_text_color = "black"
    p.xaxis[0].axis_label = xlabel
    p.yaxis[0].axis_label = "GR"
    p.xaxis[0].major_label_standoff = 7
    p.xaxis[0].axis_label_standoff = 1
    p.yaxis[0].major_label_standoff = 5
    p.yaxis[0].axis_label_standoff = gr_standoff
    # tick marks on the top and right edges of the box (5 px long, inward)
    dy = 5 * (yr[1] - yr[0]) / fh
    dx = 5 * (xr[1] - xr[0]) / fw
    p.segment(x0=xticks, y0=[yr[1]] * len(xticks), x1=xticks, y1=[yr[1] - dy] * len(xticks),
              line_color="black", line_width=1)
    p.segment(x0=[xr[1]] * len(yticks), y0=yticks, x1=[xr[1] - dx] * len(yticks), y1=yticks,
              line_color="black", line_width=1)
    return p


def add_box(p, left, right, bottom, top, text):
    p.add_layout(BoxAnnotation(left=left, right=right, bottom=bottom, top=top,
                               fill_color="white", fill_alpha=1.0,
                               line_color="black", line_width=1.2, line_alpha=1.0))
    p.add_layout(Label(x=left, y=(bottom + top) / 2, x_offset=7, text=text,
                       text_baseline="middle", text_font=FONT, text_font_size="13.5px",
                       text_color="black"))


def circles(p, x, y, color):
    p.scatter(x, y, marker="circle", size=8, fill_color=None, line_color=color, line_width=1)


p1 = make_fig("Lorraine (bleu) et Utica (noir)", (0, 500), (40, 180),
              list(range(0, 501, 50)), list(range(40, 181, 20)), "Résistivité",
              470, 369, 57, 73, 35, 45, 6, 6)
circles(p1, uti_x, uti_y, "black")
circles(p1, lor_x, lor_y, "blue")
add_box(p1, 232, 306, 135.2, 145.5, correlations[0])

p2 = make_fig("Utica (noir) et Tétreauville (bleu)", (0, 700), (20, 110),
              list(range(0, 701, 100)), list(range(20, 111, 10)), "Résistivité",
              468, 369, 61, 10, 27, 53, 6, 10)
circles(p2, uti_x, uti_y, "black")
circles(p2, tet_x, tet_y, "blue")
add_box(p2, 399, 504, 85.6, 92.2, correlations[1])

p3 = make_fig("Tétreauville (bleu) et Deschambault (noir)", (1, 5), (0, 90),
              [1, 1.5, 2, 2.5, 3, 3.5, 4, 4.5, 5], list(range(0, 91, 10)), "Résistivité log",
              468, 375, 57, 75, 32, 37, 13, 10)
circles(p3, des_x, des_y, "black")
circles(p3, tet_lx, tet_y, "blue")
add_box(p3, 2.983, 3.564, 64.1, 70.8, correlations[2])

p4 = make_fig("Deschambault (bleu) et Black River (noir)", (0.5, 5), (0, 140),
              [0.5, 1, 1.5, 2, 2.5, 3, 3.5, 4, 4.5, 5], list(range(0, 141, 20)),
              "Résistivité log", 469, 375, 60, 10, 32, 37, 5, 10)
circles(p4, des_x, des_y, "blue")
circles(p4, br_x, br_y, "black")
add_box(p4, 3.666, 4.338, 95.2, 106.0, correlations[3])

# left and right columns kept separate so each panel keeps its own top margin
layout = row(column(p1, p3), column(p2, p4))
open("out.html", "w").write(file_html(layout, INLINE))
